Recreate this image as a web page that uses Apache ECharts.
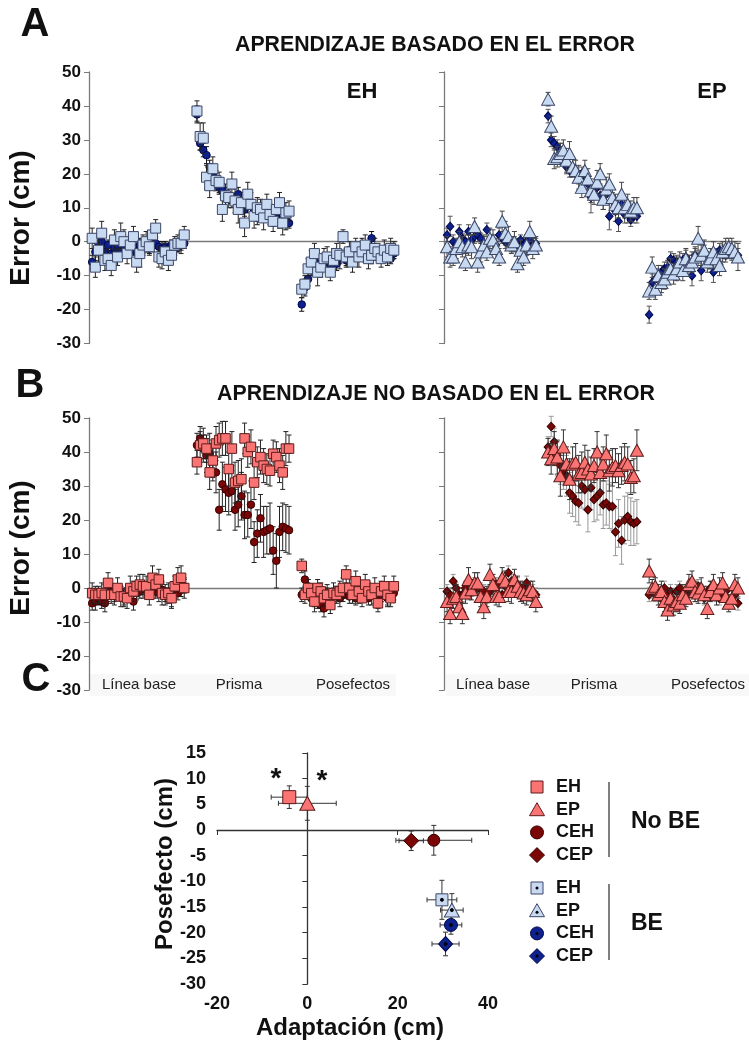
<!DOCTYPE html>
<html><head><meta charset="utf-8">
<script src="https://cdn.jsdelivr.net/npm/echarts@6/dist/echarts.min.js"></script>
<style>html,body{margin:0;padding:0;background:#fff}#c{width:749px;height:1044px}</style>
</head><body><div id="c"></div>
<script>
// ---------- DATA ----------
// trial layout: 3 phases x 30 trials (Línea base, Prisma, Posefectos)
const PHASE_START = [1, 34, 67];
const PER_PHASE = 30;
const phaseLabels = ['Línea base', 'Prisma', 'Posefectos'];
const yTicksAB = { min: -30, max: 50, step: 10 };

// Panel A (aprendizaje basado en el error) – EH (squares) and CEH (circles)
const aEH = [1,-7.5,-2.5,2.5,-5.5,-5,-7,0.5,-4.5,1.5,0,-3.5,-1,1.5,-6,-3.5,-1,0,-1.5,2,4,-4.5,-5,-3,-5.5,-4,-1,-0.5,-0.5,2,
  38.5,31,30.5,19,16.5,21.5,18,17.5,9.5,13.5,13,17,12,9.5,11.5,5.5,14,11,7.5,10,9.5,7,11,8,6,9.5,11.5,5.5,8.5,9,
  -14,-12.5,-8,-6,-3.5,-9,-7.5,-5,-4.5,-9,-5.5,-3.5,-4,1.5,-4.5,-3,-6,-1.5,-4.5,-3,-1,-5,-4,-2,-3,-5,-2.5,-4.5,-2,-2.5];
const aEHerr = [3,3,3.5,3.5,3,3,3,3,2.5,4,3.5,3,3,3,3,4,3,3,2.5,2.5,2.5,3,3,2.5,3,2.5,2.5,2.5,3,2.5,
  3,4,4.5,3.5,3.5,3.5,3,3,3.5,3.5,3,3.5,3.5,4,3,4,3.5,3.5,3.5,3,3,3.5,3,3,3,3,3,3.5,3,3,
  2.5,2.5,3,3.5,3,4,3,3,3,2.5,3.5,3,4,2,2.5,3,3,2.5,3,2.5,3,3,2.5,3,2.5,2.5,3,2.5,3,2.5];
const aCEH = [-6,-3,-0.5,0,-3,-1,-3.5,-2,-1,-2.5,-1,-2,-1.5,-2.5,-3,-1,-2,-1.5,-2,-1,-0.5,-1.5,-2,-1.5,-2,-1,-2,-1.5,-1,-0.5,
  37.5,29,27,25.5,22,19.5,18,16,15,14,13.5,12,12,14,10,9.5,10.5,11,9,7,8,9.5,8,7.5,6.5,7,6,6,5.5,5.5,
  -18.5,-13.5,-11,-8,-7,-6.5,-7.5,-6,-5.5,-7,-5,-6.5,-5,-4,-5.5,-3,-5,-2.5,-4,-1,-4.5,-3,1,-4,-3,-4.5,-3.5,-4,-5,-3.5];
const aCEHerr = [2,2.5,2,1.5,2,1.5,2,1.5,2,1.5,1.5,2,1.5,1.5,2,2,1.5,1.5,1.5,2,1.5,1.5,2,1.5,1.5,1.5,2,1.5,1.5,1.5,
  2.5,2,2,2.5,2,2,2,2,2,2,2,2,1.5,2,2,2,2,1.5,2,2,1.5,2,2,1.5,2,1.5,2,1.5,2,1.5,
  2,2.5,2,2,2,1.5,2,2,1.5,2,1.5,2,1.5,1.5,2,1.5,1.5,2,1.5,2,1.5,2,2,1.5,1.5,1.5,2,1.5,1.5,1.5];
// EP (triangles) and CEP (diamonds)
const aEP = [-1.5,-4.5,-4.5,-2,0,-1.5,-6,-1,-1.5,4.5,-6,-3,-1,-3,1,0.5,-2,-4.5,6,2.5,1.5,-1,0,-6.5,-2.5,-4.5,-1,3,-2,-1,
  42,34,24.5,25,26,27,24,26,22,21,19,16,21,18.5,15,14,17.5,20,12.5,15.5,17,13,11,10,14,10,11,9,10,10,
  -14.5,-7.5,-14,-10,-12,-11,-9,-8,-9.5,-8,-6,-8.5,-5,-7,-6,-4.5,1,-4,-2.5,-6,-5,-3,-5,-7,-3,-2,-1.5,-2,-3,-4.5];
const aEPerr = [3,3,2.5,3,3,3,2.5,3,3.5,2.5,3,3,3,2.5,3,3,3,2.5,3,3.5,3,2.5,3,2.5,3,2.5,3,3,3,2.5,
  2,3,3,3,3,3,3.5,3.5,3,3,3.5,3,3,3,3.5,3,3.5,3,3,3.5,3,3,3,3,3.5,3,3,3,3,3,
  2.5,3,3,3,3,3,3,3,3,3.5,3,3,3,3,3,3,3.5,3,3,3,3,3,2.5,3,3,3,2.5,3,3,4];
const aCEP = [2,4.5,0,-1,3,1,0,3,0.5,1.5,2,1,-0.5,3.5,0.5,0,-1,2,1,0,-0.5,-1,0,-1,0.5,-1,0,0.5,-1,-0.5,
  37,30,29,28,27,25,22,21,22,20,19,20,18,17,13,15,16,13.5,12,14,7.5,12,9,6,11,8,8,6.5,7.5,7.5,
  -21.5,-12,-11,-10,-9,-8,-7.5,-5,-5.5,-6,-7,-5.5,-4.5,-6,-10,-4,-5,-8.5,-3,-5.5,-6,-9,-4,-2.5,-3,-4,-3,-3.5,-4,-4];
const aCEPerr = [2,3,2,1.5,2,1.5,2,2,1.5,2,2,1.5,2,2,1.5,2,1.5,2,1.5,2,1.5,2,1.5,2,1.5,2,1.5,1.5,2,1.5,
  2,2,2,2,2,2,2,2,2.5,2,2,2,2.5,2,4.5,2.5,2.5,2,2.5,2.5,4,2.5,3,3,2.5,2.5,2.5,2,2,2,
  2.5,2.5,2,2,2,2,2,2,2,2,2,2,2,2,3,2,2,3,2,2,2,3,2,2,2,2,2,2,2,2];

// Panel B (aprendizaje no basado en el error)
const bEH = [-1.5,-2,-2,-1.5,-2,1.5,-2,-2,0,-2.5,-2.5,-3,0,-1,0.5,1,0.5,0.5,-2,3,1,2.5,-1.5,-2,-1.5,-3,0.5,2.5,3,0,
  37,42,42.5,41,34,37.5,42.5,43.5,44,44,35,41,31,31.5,32,44,40,41.5,31,37,38.5,36,35,34.5,39.5,38.5,36,34,41,41,
  6.5,-2,0,-1.5,-4,0,-1,-3,-2,-5,-1.5,-2,-1,0,4,0,-2,2,-1,-3,1,-1,-2,0,-4.5,-1,0.5,-2,-3,0.5];
const bEHerr = [3,2.5,2.5,3,3,3,2.5,3,3,3,2.5,3,3.5,3,3,3,3.5,3,3,3.5,3,3,3.5,3,3,3,3,3.5,3.5,3,
  3.5,4,4.5,4,5,5,5,5,5,5,5,5,6,6,6,4.5,4.5,5,5,4.5,5,5,4.5,4.5,4,4.5,5,5,5,4,
  2,2.5,2.5,2.5,3,2.5,2.5,2.5,3,2.5,3,2.5,3,3,2.5,3,2.5,3,3,2.5,3,2.5,3,3,2.5,3,3,3,2.5,3];
const bCEH = [-4.5,-4,-3,-4,-4.5,-2,-1,-2,-2,-1.5,-3,-2,-1.5,-4,-1.5,-1,0,-0.5,-1,0,-1,-1.5,-0.5,-2,-2,-3,-1,-1.5,-0.5,0.5,
  42,44,41,39,39.5,37.5,34,23,30.5,29,28,28.5,23,24.5,27,21.5,21.5,24.5,13.5,16,20.5,16.5,17,17.5,11,8,16.5,18,17.5,17,
  -2,2.5,0.5,-3,-3,-4,-5,-6,-2,-3,-2,-1.5,-3,-2,-1,-2.5,-1,-3,-2,-1,-2,-3,-1,-2,-4,-2,-1,-3,-2,-1.5];
const bCEHerr = [2,2.5,2,2,2.5,2,2,2,1.5,2,2.5,2,2,2.5,2,2,2,1.5,2,2,2,2.5,2,2,2,2.5,2,2,2,2,
  3.5,3.5,4,5,6,6,6,6,6.5,6.5,6.5,6,6,6.5,7,7,6.5,7,6,7,7,7.5,7,7.5,7,8,7.5,7,7,7,
  2,2.5,2,2,2.5,2,2,2.5,2,2,2,2,2.5,2,2,2,2,2,2.5,2,2,2,2,2.5,2,2,2,2.5,2,2];
const bEP = [-4,-7.5,-3,-2.5,-5.5,-7.5,-1.5,2.5,-0.5,1.5,1.5,-2.5,-5.5,-2.5,4,1,-2.5,-2.5,3,2,-1,-1,2.5,0.5,-1,-1.5,-2,-0.5,-1,-4,
  40,38,41,38.5,33,41.5,36.5,32,36.5,37,33.5,34,37,35,33.5,36,40,34,36.5,39.5,34.5,35.5,36,34.5,36,37,36.5,32.5,33,40.5,
  5,0,0.5,-2,-1,-4,-6.5,-3,-5,-4,-4.5,-2,-3,1,2,-1,-1.5,0,-2,-6,-1,1,-2,0,1.5,-2.5,-4.5,-3,1,0];
const bEPerr = [3,3,3,3.5,3,3,3,3.5,3,3,3,3,3.5,3,3,3,2.5,3,3,3,3,3.5,3,3,3,3,3,2.5,3,3,
  4,4.5,5,5,6,5,5,6,5,5.5,5.5,6,5,5.5,5,5,6,5.5,5,5.5,6,5.5,5,5,5.5,5.5,5,5,5,6,
  3.5,2.5,2.5,3,3,3,3,2.5,3,3,3,3,2.5,3,3,3,3,3,2.5,3,3,3,3,3,3,3,2.5,3,3,3];
const bCEP = [-1,-2,2,0,-2,-2,0,-1.5,-1,1,0,-0.5,-1,-2.5,-1,0,1,1,-2,0.5,4.5,2,0,1,-1,0,1.5,-2,-1,-2,
  41.5,47.5,43,38,36,34.5,33,28,27,25.5,25,30,29,23,29.5,26,27,28,24.5,25,24,24,16.5,19,14,20,21,19.5,19,19.5,
  -2,-1,-2,-1.5,-3,0,-2,-1,-3.5,-1,0,-2,-2,0,-1,-2,0.5,-1,-3,-1.5,0,-1,-2,-3,-2,-1,-4,-3,-2,-4.5];
const bCEPerr = [2,2,2,1.5,2,2,2,2,1.5,2,2,2,2,2,1.5,2,2,2,2,2,2,2,1.5,2,2,2,2,2,2,2,
  3,3,4,5,5.5,5.5,6,6,6,6,6.5,6.5,6,6.5,6.5,6.5,7,6.5,7,6.5,6.5,7,7,7,7,7,7,7,6.5,6.5,
  2,2,2,2,2,2,2,2,2,2,2,2,2,2,2,2,2,2,2,2,2,2,2,2,2,2,2,2,2,2];

// Panel C: adaptation (x) vs posefecto (y), mean ± error
const groupNames = ['EH', 'EP', 'CEH', 'CEP'];
const noBE_x  = [-4, 0, 28, 23];
const noBE_y  = [6.4, 5.2, -2, -2.1];
const noBE_xe = [4, 6.4, 8.4, 2.7];
const noBE_ye = [2.2, 3.3, 2.9, 1.9];
const BE_x  = [29.8, 32, 31.8, 30.6];
const BE_y  = [-13.6, -15.6, -18.5, -22.2];
const BE_xe = [3.3, 2.5, 2.4, 3];
const BE_ye = [3.8, 3.2, 1.8, 2.3];

// ---------- STYLE ----------
const FONT = '"Liberation Sans", Arial, Helvetica, sans-serif';
const C = {
  lblue: '#c7daf2', lblueB: '#3c4768',
  navy: '#0d218f', navyB: '#02074a',
  salmon: '#fa7474', salmonB: '#5e1b1b',
  dred: '#7b0606', dredB: '#360000',
  axis: '#7a7a7a'
};

function trialData(vals, errs) {
  return vals.map((v, i) => [PHASE_START[Math.floor(i / PER_PHASE)] + (i % PER_PHASE), v, errs[i]]);
}
function errSeries(gi, data, color, cap, z) {
  return {
    type: 'custom', xAxisIndex: gi, yAxisIndex: gi, data, silent: true, z, clip: false,
    encode: { x: 0, y: 1 },
    renderItem(params, api) {
      const x = api.value(0), y = api.value(1), e = api.value(2);
      const hi = api.coord([x, y + e]), lo = api.coord([x, y - e]);
      const st = { stroke: color, lineWidth: 1 };
      return { type: 'group', children: [
        { type: 'line', shape: { x1: hi[0], y1: hi[1], x2: lo[0], y2: lo[1] }, style: st },
        { type: 'line', shape: { x1: hi[0] - cap, y1: hi[1], x2: hi[0] + cap, y2: hi[1] }, style: st },
        { type: 'line', shape: { x1: lo[0] - cap, y1: lo[1], x2: lo[0] + cap, y2: lo[1] }, style: st }
      ]};
    }
  };
}
function scat(gi, data, symbol, size, fill, border, z) {
  return { type: 'scatter', xAxisIndex: gi, yAxisIndex: gi, data, symbol, symbolSize: size, z, silent: true,
    itemStyle: { color: fill, borderColor: border, borderWidth: 1, opacity: 1 } };
}
function xyErrSeries(gi, data, color, cap, z) {
  return {
    type: 'custom', xAxisIndex: gi, yAxisIndex: gi, data, silent: true, z, clip: false,
    encode: { x: 0, y: 1 },
    renderItem(params, api) {
      const x = api.value(0), y = api.value(1), xe = api.value(2), ye = api.value(3);
      const l = api.coord([x - xe, y]), r = api.coord([x + xe, y]);
      const t = api.coord([x, y + ye]), b = api.coord([x, y - ye]);
      const st = { stroke: color, lineWidth: 1 };
      return { type: 'group', children: [
        { type: 'line', shape: { x1: l[0], y1: l[1], x2: r[0], y2: r[1] }, style: st },
        { type: 'line', shape: { x1: l[0], y1: l[1] - cap, x2: l[0], y2: l[1] + cap }, style: st },
        { type: 'line', shape: { x1: r[0], y1: r[1] - cap, x2: r[0], y2: r[1] + cap }, style: st },
        { type: 'line', shape: { x1: t[0], y1: t[1], x2: b[0], y2: b[1] }, style: st },
        { type: 'line', shape: { x1: t[0] - cap, y1: t[1], x2: t[0] + cap, y2: t[1] }, style: st },
        { type: 'line', shape: { x1: b[0] - cap, y1: b[1], x2: b[0] + cap, y2: b[1] }, style: st }
      ]};
    }
  };
}

const grids = [
  { left: 89, top: 72, width: 308, height: 271.5 },
  { left: 444, top: 72, width: 297, height: 271.5 },
  { left: 89, top: 418, width: 308, height: 272 },
  { left: 444, top: 418, width: 297, height: 272 },
  { left: 217, top: 753, width: 271, height: 231 }
];

function xAB(gi) {
  return { gridIndex: gi, type: 'value', min: 0, max: 97,
    axisLine: { show: true, onZero: true, lineStyle: { color: C.axis, width: 1.3 } },
    axisTick: { show: false }, axisLabel: { show: false }, splitLine: { show: false } };
}
function yAB(gi, labels) {
  return { gridIndex: gi, type: 'value', min: yTicksAB.min, max: yTicksAB.max, interval: yTicksAB.step,
    axisLine: { show: true, lineStyle: { color: C.axis, width: 1.3 } },
    axisTick: { show: true, length: 5, lineStyle: { color: C.axis } },
    axisLabel: { show: labels, color: '#111', fontSize: 17, fontWeight: 'bold', fontFamily: FONT, margin: 8 },
    splitLine: { show: false } };
}

const xAxes = [xAB(0), xAB(1), xAB(2), xAB(3),
  { gridIndex: 4, type: 'value', min: -20, max: 40, interval: 20, position: 'bottom',
    axisLine: { show: false, onZero: false }, axisTick: { show: false }, splitLine: { show: false },
    axisLabel: { color: '#111', fontSize: 18, fontWeight: 'bold', fontFamily: FONT, margin: 11 } },
  { gridIndex: 4, type: 'value', min: -20, max: 40, interval: 20, position: 'bottom',
    axisLine: { show: true, onZero: true, lineStyle: { color: '#333', width: 1.3 } },
    axisTick: { show: true, length: 5, lineStyle: { color: '#333' } }, axisLabel: { show: false }, splitLine: { show: false } }
];
const yAxes = [yAB(0, true), yAB(1, false), yAB(2, true), yAB(3, false),
  { gridIndex: 4, type: 'value', min: -30, max: 15, interval: 5, position: 'left',
    axisLine: { show: false, onZero: false }, axisTick: { show: false }, splitLine: { show: false },
    axisLabel: { color: '#111', fontSize: 18, fontWeight: 'bold', fontFamily: FONT, margin: 11 } },
  { gridIndex: 4, type: 'value', min: -30, max: 15, interval: 5, position: 'left',
    axisLine: { show: true, onZero: true, lineStyle: { color: '#333', width: 1.3 } },
    axisTick: { show: true, length: 5, lineStyle: { color: '#333' } }, axisLabel: { show: false }, splitLine: { show: false } }
];

const series = [
  // A left
  errSeries(0, trialData(aCEH, aCEHerr), '#111', 2.5, 2),
  scat(0, trialData(aCEH, aCEHerr), 'circle', 7.5, C.navy, C.navyB, 3),
  errSeries(0, trialData(aEH, aEHerr), '#222', 2.5, 4),
  scat(0, trialData(aEH, aEHerr), 'rect', 10, C.lblue, C.lblueB, 5),
  // A right
  errSeries(1, trialData(aCEP, aCEPerr), '#555', 2.5, 2),
  scat(1, trialData(aCEP, aCEPerr), 'diamond', [7.5, 8.5], C.navy, C.navyB, 3),
  errSeries(1, trialData(aEP, aEPerr), '#444', 2.5, 4),
  scat(1, trialData(aEP, aEPerr), 'triangle', [13, 12], C.lblue, C.lblueB, 5),
  // B left
  errSeries(2, trialData(bCEH, bCEHerr), '#222', 2.5, 2),
  scat(2, trialData(bCEH, bCEHerr), 'circle', 7.5, C.dred, C.dredB, 3),
  errSeries(2, trialData(bEH, bEHerr), '#222', 2.5, 4),
  scat(2, trialData(bEH, bEHerr), 'rect', 9.5, C.salmon, C.salmonB, 5),
  // B right
  errSeries(3, trialData(bCEP, bCEPerr), '#999', 2.5, 2),
  scat(3, trialData(bCEP, bCEPerr), 'diamond', [8, 8.5], C.dred, C.dredB, 3),
  errSeries(3, trialData(bEP, bEPerr), '#333', 2.5, 4),
  scat(3, trialData(bEP, bEPerr), 'triangle', [13, 12], C.salmon, C.salmonB, 5)
];

// Panel C
const cSymbols = ['rect', 'triangle', 'circle', 'diamond'];
const cSizesNo = [13, [15, 14], 12, [15, 15]];
const cSizesBE = [12, [15, 14], 13, [14, 15]];
const cNoFill = [C.salmon, C.salmon, C.dred, C.dred];
const cNoBorder = [C.salmonB, C.salmonB, C.dredB, C.dredB];
const cBEFill = [C.lblue, C.lblue, C.navy, C.navy];
const cBEBorder = [C.lblueB, C.lblueB, C.navyB, C.navyB];
const noBEData = groupNames.map((n, i) => [noBE_x[i], noBE_y[i], noBE_xe[i], noBE_ye[i]]);
const BEData = groupNames.map((n, i) => [BE_x[i], BE_y[i], BE_xe[i], BE_ye[i]]);
series.push(xyErrSeries(4, noBEData, '#333', 2.5, 10));
series.push(xyErrSeries(4, BEData, '#333', 2.5, 10));
groupNames.forEach((n, i) => {
  series.push(scat(4, [noBEData[i]], cSymbols[i], cSizesNo[i], cNoFill[i], cNoBorder[i], 11 + i));
});
groupNames.forEach((n, i) => {
  series.push(scat(4, [BEData[i]], cSymbols[i], cSizesBE[i], cBEFill[i], cBEBorder[i], 15 + i));
});
series.push(scat(4, BEData, 'circle', 3, '#000', '#000', 20));

// ---------- GRAPHICS (titles, labels, legend) ----------
function txt(x, y, text, size, weight, opt) {
  opt = opt || {};
  return { type: 'text', x, y, rotation: opt.rot || 0, z: 100, silent: true,
    style: { text, fill: opt.fill || '#111', fontSize: size, fontWeight: weight, fontFamily: FONT,
      align: opt.align || 'center', verticalAlign: 'middle', textAlign: opt.align || 'center', textVerticalAlign: 'middle' } };
}
const g = [];
g.push({ type: 'rect', shape: { x: 90, y: 674, width: 306, height: 22 }, style: { fill: '#f8f8f8' }, z: 0, silent: true });
g.push({ type: 'rect', shape: { x: 446, y: 674, width: 303, height: 22 }, style: { fill: '#f8f8f8' }, z: 0, silent: true });
g.push(txt(35, 25, 'A', 40, 'bold'));
g.push(txt(435, 45, 'APRENDIZAJE BASADO EN EL ERROR', 21.3, 'bold'));
g.push(txt(362, 92, 'EH', 22, 'bold'));
g.push(txt(712, 92, 'EP', 22, 'bold'));
g.push(txt(30, 386, 'B', 40, 'bold'));
g.push(txt(436, 394, 'APRENDIZAJE NO BASADO EN EL ERROR', 21.3, 'bold'));
g.push(txt(36, 680, 'C', 40, 'bold'));
g.push(txt(21, 218, 'Error (cm)', 28, 'bold', { rot: Math.PI / 2 }));
g.push(txt(21, 548, 'Error (cm)', 28, 'bold', { rot: Math.PI / 2 }));
g.push(txt(165, 864, 'Posefecto (cm)', 24, 'bold', { rot: Math.PI / 2 }));
g.push(txt(350, 1028, 'Adaptación (cm)', 24, 'bold'));
const phaseLabelX = [[139, 239, 353], [493, 594, 708]];
phaseLabelX.forEach(row => row.forEach((x, i) => g.push(txt(x, 685, phaseLabels[i], 15, 'normal', { fill: '#222' }))));
g.push(txt(276, 779, '*', 28, 'bold'));
g.push(txt(322, 781, '*', 28, 'bold'));

function legendSymbol(kind, cx, cy, fill, stroke, dot) {
  const st = { fill, stroke, lineWidth: 1 };
  let el;
  if (kind === 'rect') el = { type: 'rect', shape: { x: cx - 6, y: cy - 6, width: 12, height: 12 }, style: st };
  else if (kind === 'triangle') el = { type: 'polygon', shape: { points: [[cx, cy - 7], [cx + 7.5, cy + 6], [cx - 7.5, cy + 6]] }, style: st };
  else if (kind === 'circle') el = { type: 'circle', shape: { cx, cy, r: 6.5 }, style: st };
  else el = { type: 'polygon', shape: { points: [[cx, cy - 7.5], [cx + 7.5, cy], [cx, cy + 7.5], [cx - 7.5, cy]] }, style: st };
  el.z = 100; el.silent = true;
  g.push(el);
  if (dot) g.push({ type: 'circle', shape: { cx, cy: kind === 'triangle' ? cy + 1.5 : cy, r: 1.5 }, style: { fill: '#000' }, z: 101, silent: true });
}
const legendGroups = [
  { title: 'No BE', y0: 787, fills: cNoFill, borders: cNoBorder, dot: false, line: [782, 857], titleY: 822 },
  { title: 'BE', y0: 888, fills: cBEFill, borders: cBEBorder, dot: true, line: [884, 960], titleY: 924 }
];
legendGroups.forEach(gr => {
  groupNames.forEach((n, i) => {
    const y = gr.y0 + i * 22.7;
    legendSymbol(cSymbols[i], 537, y, gr.fills[i], gr.borders[i], gr.dot);
    g.push(txt(556, y, n, 18, 'bold', { align: 'left' }));
  });
  g.push({ type: 'line', shape: { x1: 609, y1: gr.line[0], x2: 609, y2: gr.line[1] }, style: { stroke: '#555', lineWidth: 1.5 }, z: 100, silent: true });
  g.push(txt(631, gr.titleY, gr.title, 23, 'bold', { align: 'left' }));
});

const chart = echarts.init(document.getElementById('c'), null, { renderer: 'canvas' });
chart.setOption({
  animation: false,
  backgroundColor: '#fff',
  grid: grids,
  xAxis: xAxes,
  yAxis: yAxes,
  series,
  graphic: g
});
</script></body></html>
